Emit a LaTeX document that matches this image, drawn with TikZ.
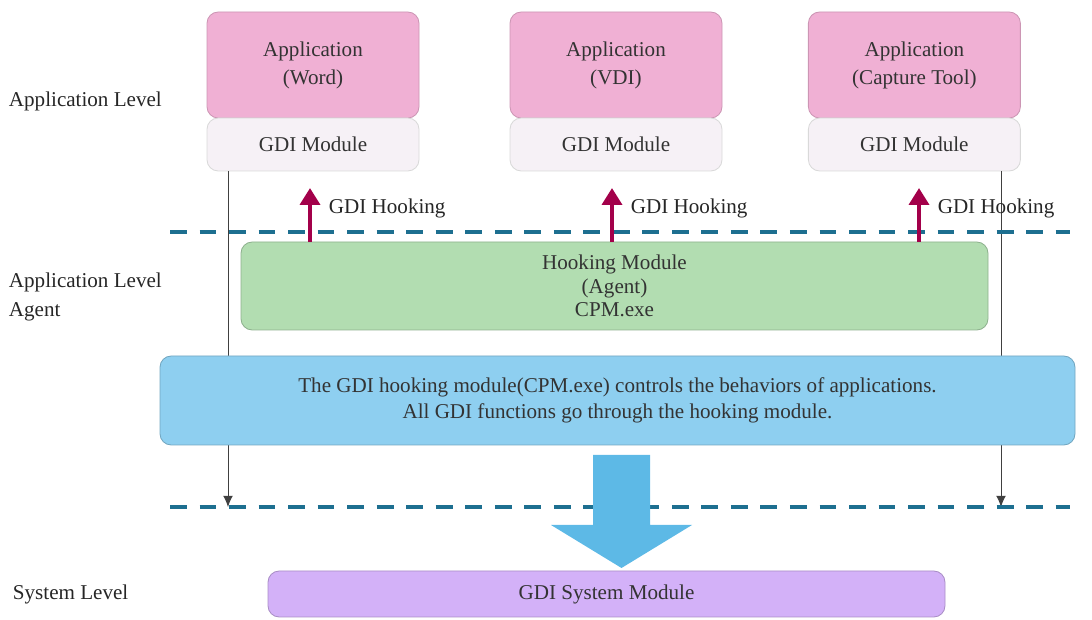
\documentclass[tikz,border=0pt]{standalone}
\usepackage{fontspec}
\setmainfont{Liberation Serif}
\usetikzlibrary{arrows.meta,positioning,calc}

\begin{document}
\begin{tikzpicture}[
  font=\fontsize{15}{20}\selectfont,
  >=Latex,
  box/.style={draw=#1!80!black, rounded corners=8pt, align=center, fill=#1, text=black!80, line width=0.6pt},
  hookarr/.style={-{Triangle[length=12pt,width=14pt]}, line width=3.4pt, cRed},
  thinarr/.style={-{Latex[length=8pt,width=7pt]}, black!75, line width=0.7pt},
  lvl/.style={line width=3pt, cDash, dash pattern=on 12pt off 9pt},
  lab/.style={anchor=west, align=left, text=black!85},
]
\definecolor{cPink}{HTML}{F0B0D4}
\definecolor{cGdi}{HTML}{F6F1F6}
\definecolor{cGreen}{HTML}{B2DDB1}
\definecolor{cBlue}{HTML}{8ECFF0}
\definecolor{cLilac}{HTML}{D3B1F8}
\definecolor{cRed}{HTML}{A3004A}
\definecolor{cDash}{HTML}{1D6F90}
\definecolor{cBig}{HTML}{5DB9E6}

\useasboundingbox (0,0) rectangle (27.3,15.5);

% levels
\node[lab] (l1) at (0.1,12.975) {Application Level};
\node[lab] (l2) at (0.1,8.075) {Application Level\\Agent};
\node[lab] (l3) at (0.2,0.65) {System Level};

% applications
\node[box=cPink, draw=cPink!85!black, minimum width=5.3cm, minimum height=2.65cm] (word) at (7.825,13.875) {Application\\(Word)};
\node[box=cPink, draw=cPink!85!black, minimum width=5.3cm, minimum height=2.65cm] (vdi) at (15.4,13.875) {Application\\(VDI)};
\node[box=cPink, draw=cPink!85!black, minimum width=5.3cm, minimum height=2.65cm] (cap) at (22.86,13.875) {Application\\(Capture Tool)};
\node[box=cGdi, draw=black!15, minimum width=5.3cm, minimum height=1.325cm] (gw) at (7.825,11.8875) {GDI Module};
\node[box=cGdi, draw=black!15, minimum width=5.3cm, minimum height=1.325cm] (gv) at (15.4,11.8875) {GDI Module};
\node[box=cGdi, draw=black!15, minimum width=5.3cm, minimum height=1.325cm] (gc) at (22.86,11.8875) {GDI Module};

% pass-through lines
\coordinate (dl) at (5.7,2.825);
\coordinate (dr) at (25.025,2.825);
\draw[thinarr] (gw.south -| dl) -- (dl);
\draw[thinarr] (gc.south -| dr) -- (dr);

% level separators
\coordinate (s1a) at (4.25,9.7); \coordinate (s1b) at (26.75,9.7);
\coordinate (s2a) at (4.25,2.825); \coordinate (s2b) at (26.75,2.825);
\draw[lvl] (s1a) -- (s1b);
\draw[lvl] (s2a) -- (s2b);

\node[box=cGreen, minimum width=18.675cm, minimum height=2.2cm, font=\fontsize{15}{16.5}\selectfont] (hook) at (15.3625,8.35) {Hooking Module\\(Agent)\\CPM.exe};
\node[box=cBlue, minimum width=22.875cm, minimum height=2.225cm, font=\fontsize{15}{18.5}\selectfont] (ctl) at (15.4375,5.4875)
  {The GDI hooking module(CPM.exe) controls the behaviors of applications.\\All GDI functions go through the hooking module.};
\node[box=cLilac, minimum width=16.925cm, minimum height=1.15cm] (sys) at (15.1625,0.65) {GDI System Module};

% hooking arrows
\coordinate (h1) at (7.75,10.8); \coordinate (h2) at (15.3,10.8); \coordinate (h3) at (22.975,10.8);
\draw[hookarr] (hook.north -| h1) -- (h1);
\draw[hookarr] (hook.north -| h2) -- (h2);
\draw[hookarr] (hook.north -| h3) -- (h3);
\node[lab] (t1) at (8.1,10.3) {GDI Hooking};
\node[lab] (t2) at (15.65,10.3) {GDI Hooking};
\node[lab] (t3) at (23.32,10.3) {GDI Hooking};

% big flow arrow
\fill[cBig] (14.825,4.125) -- (16.25,4.125) -- (16.25,2.375) -- (17.3,2.375)
  -- (15.5375,1.3) -- (13.775,2.375) -- (14.825,2.375) -- cycle;
\end{tikzpicture}
\end{document}
